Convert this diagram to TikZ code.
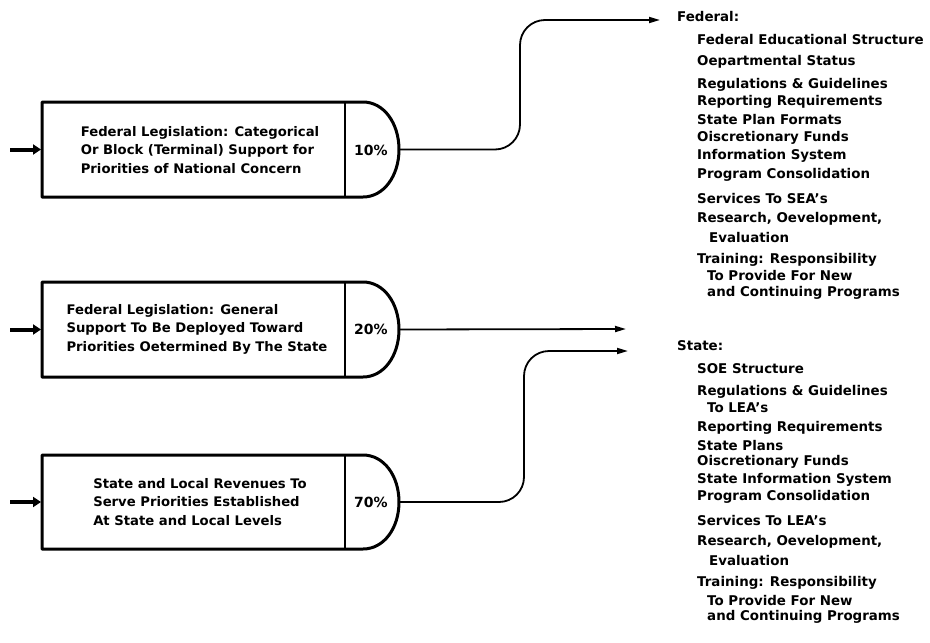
\documentclass[tikz,border=0pt]{standalone}
\usepackage{fontspec}
\setmainfont{DejaVu Sans}
\usetikzlibrary{arrows.meta}
\begin{document}
\begin{tikzpicture}[x=1pt,y=-1pt,
  boxline/.style={line width=3pt, line join=round},
  divline/.style={line width=2.4pt},
  conn/.style={line width=1.8pt, -{Triangle[length=11pt,width=6pt]}},
  inarrow/.style={line width=4pt, -{Triangle[length=8pt,width=10pt]}},
  boxtext/.style={font=\fontsize{13.2}{18.5}\selectfont\bfseries, align=left, inner sep=0pt},
  pct/.style={font=\fontsize{14}{15}\selectfont\bfseries, inner sep=0pt},
  lst/.style={font=\fontsize{13.4}{15}\selectfont\bfseries, anchor=west, inner sep=0pt}]
\useasboundingbox (0,0) rectangle (930,643);

% ---- boxes ----
\foreach \n/\t/\b in {1/102/197, 2/282/377, 3/455/549}{
  \draw[boxline] (345,\t) -- (42,\t) -- (42,\b) -- (345,\b) -- (363,\b)
     .. controls (384,\b) and (399,{(\t+\b)/2+26}) .. (399,{(\t+\b)/2})
     .. controls (399,{(\t+\b)/2-26}) and (384,\t) .. (363,\t) -- cycle;
  \draw[divline] (345,\t) -- (345,\b);
  \coordinate (c\n) at (399,{(\t+\b)/2});
  \coordinate (in\n) at (10,{(\t+\b)/2});
  \coordinate (e\n) at (41,{(\t+\b)/2});
}

\node[boxtext] (b1) at (200,150) {Federal Legislation: Categorical\\Or Block (Terminal) Support for\\Priorities of National Concern};
\node[boxtext] (b2) at (197,329) {Federal Legislation: General\\Support To Be Deployed Toward\\Priorities Oetermined By The State};
\node[boxtext] (b3) at (200,502) {State and Local Revenues To\\Serve Priorities Established\\At State and Local Levels};

\node[pct] (p1) at (371,150) {10\%};
\node[pct] (p2) at (371,329) {20\%};
\node[pct] (p3) at (371,502) {70\%};

% ---- input arrows ----
\foreach \n in {1,2,3}{ \draw[inarrow] (in\n) -- (e\n); }

% ---- targets ----
\coordinate (t1) at (660,20);
\coordinate (t2) at (626,329);
\coordinate (t3) at (628,351);

\draw[conn, rounded corners=25pt] (c1) -| (520,20) -- (t1);
\draw[conn] (c2) -- (t2);
\draw[conn, rounded corners=25pt] (c3) -| (524,351) -- (t3);

% ---- Federal list ----
\foreach \i/\x/\y/\s in {
  0/677/17/{Federal:},
  1/697/40/{Federal Educational Structure},
  2/697/62/{Oepartmental Status},
  3/697/85/{Regulations \& Guidelines},
  4/697/102/{Reporting Requirements},
  5/697/120/{State Plan Formats},
  6/697/138/{Oiscretionary Funds},
  7/697/156/{Information System},
  8/697/175/{Program Consolidation},
  9/697/199/{Services To SEA's},
  10/697/219/{Research, Oevelopment,},
  11/709/238/{Evaluation},
  12/697/260/{Training: Responsibility},
  13/707/276/{To Provide For New},
  14/707/293/{and Continuing Programs}}{
  \node[lst] (f\i) at (\x,\y) {\s};
}

% ---- State list ----
\foreach \i/\x/\y/\s in {
  0/677/346/{State:},
  1/697/369/{SOE Structure},
  2/697/392/{Regulations \& Guidelines},
  3/707/408/{To LEA's},
  4/697/428/{Reporting Requirements},
  5/697/445/{State Plans},
  6/697/462/{Oiscretionary Funds},
  7/697/480/{State Information System},
  8/697/497/{Program Consolidation},
  9/697/520/{Services To LEA's},
  10/697/542/{Research, Oevelopment,},
  11/709/560/{Evaluation},
  12/697/583/{Training: Responsibility},
  13/707/600/{To Provide For New},
  14/707/617/{and Continuing Programs}}{
  \node[lst] (s\i) at (\x,\y) {\s};
}
\end{tikzpicture}
\end{document}
